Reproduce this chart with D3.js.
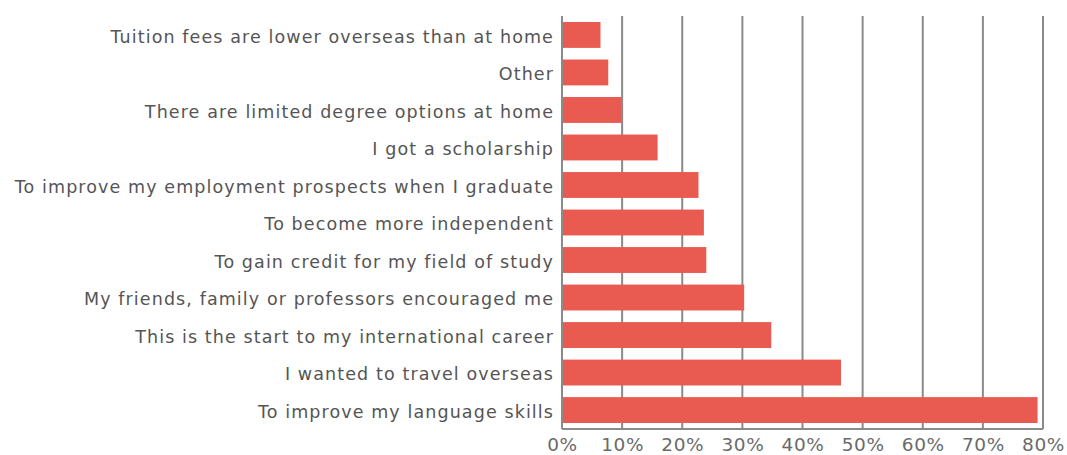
<!DOCTYPE html>
<html>
<head>
<meta charset="utf-8">
<script src="https://cdn.jsdelivr.net/npm/d3@7"></script>
<style>
  html, body { margin: 0; padding: 0; background: #fff; }
  svg { display: block; }
</style>
</head>
<body>
<svg id="chart" width="1067" height="455"></svg>
<script>
// Reasons for studying abroad, share of respondents (%)
const reasons = [
  "Tuition fees are lower overseas than at home",
  "Other",
  "There are limited degree options at home",
  "I got a scholarship",
  "To improve my employment prospects when I graduate",
  "To become more independent",
  "To gain credit for my field of study",
  "My friends, family or professors encouraged me",
  "This is the start to my international career",
  "I wanted to travel overseas",
  "To improve my language skills"
];
const shares = [6.4, 7.7, 9.9, 15.9, 22.7, 23.6, 24.0, 30.3, 34.8, 46.4, 79.1];
const tickValues = [0, 10, 20, 30, 40, 50, 60, 70, 80];

const svg = d3.select("#chart");
const margin = { top: 16, right: 24, bottom: 26, left: 562 };
const width = 1067 - margin.left - margin.right;
const height = 455 - margin.top - margin.bottom;

const g = svg.append("g").attr("transform", `translate(${margin.left},${margin.top})`);

const x = d3.scaleLinear().domain([0, 80]).range([0, 481]);
const y = d3.scaleBand().domain(reasons).range([0, 413]).paddingInner(0.31).paddingOuter(0.16);

// vertical gridlines
g.selectAll("line.grid")
  .data(tickValues)
  .join("line")
  .attr("class", "grid")
  .attr("x1", d => x(d)).attr("x2", d => x(d))
  .attr("y1", 0).attr("y2", height)
  .attr("stroke", "#8a8a8a")
  .attr("stroke-width", 2);

// bars
g.selectAll("rect.bar")
  .data(reasons)
  .join("rect")
  .attr("class", "bar")
  .attr("x", x(0) + 1)
  .attr("y", d => y(d))
  .attr("width", (d, i) => x(shares[i]) - x(0) - 1)
  .attr("height", y.bandwidth())
  .attr("fill", "#e95a50");

// baseline along the bottom
g.append("line")
  .attr("x1", 0).attr("x2", x(80))
  .attr("y1", height).attr("y2", height)
  .attr("stroke", "#8a8a8a").attr("stroke-width", 2);

// x axis labels
const xAxis = d3.axisBottom(x).tickValues(tickValues).tickFormat(d => d + "%").tickSize(0).tickPadding(9);
const xa = g.append("g").attr("transform", `translate(0,${height})`).call(xAxis);
xa.select(".domain").remove();
xa.selectAll("text")
  .attr("fill", "#6a6a6a")
  .style("font-family", "'DejaVu Sans', sans-serif")
  .style("font-size", "18.5px")
  .style("letter-spacing", "0.6px");

// category labels
const yAxis = d3.axisLeft(y).tickSize(0).tickPadding(8);
const ya = g.append("g").call(yAxis);
ya.select(".domain").remove();
ya.selectAll("text")
  .attr("fill", "#555")
  .attr("dy", "0.45em")
  .style("font-family", "'DejaVu Sans', sans-serif")
  .style("font-size", "17.5px")
  .style("letter-spacing", "1.1px");
</script>
</body>
</html>
